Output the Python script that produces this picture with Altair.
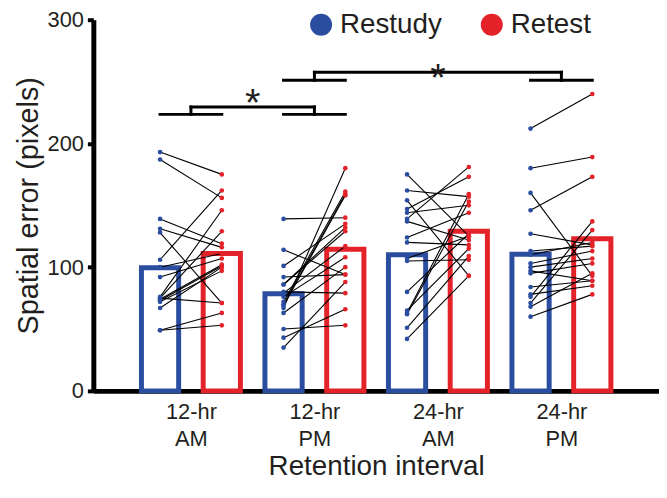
import json
import altair as alt
import pandas as pd

FONT = "Liberation Sans"
INK = "#231f20"

groups = ["12-hr AM", "12-hr PM", "24-hr AM", "24-hr PM"]
conditions = ["Restudy", "Retest"]
colors = ["#2B4DA0", "#E3222A"]

restudy_means = [99.5, 78.5, 110, 110.5]
retest_means = [111, 114.5, 129, 123]

restudy_12am = [193, 187, 139, 131, 128, 106, 100, 92, 76, 75, 74, 73, 72, 75, 67, 49, 49]
retest_12am = [175, 156, 119, 116, 71, 162, 111, 107, 146, 129, 102, 101, 97, 71, 100, 63, 53]
restudy_12pm = [139, 114, 101, 92, 86, 86, 80, 79, 76, 72, 70, 69, 67, 63, 50, 43, 35]
retest_12pm = [140, 94, 135, 94, 132, 129, 79, 117, 108, 161, 159, 158, 180, 100, 53, 66, 88]
restudy_24am = [175, 162, 154, 147, 144, 139, 137, 124, 120, 107, 105, 80, 65, 63, 62, 51, 42]
retest_24am = [125, 157, 93, 173, 150, 181, 122, 144, 118, 125, 106, 127, 115, 159, 153, 109, 93]
restudy_24pm = [212, 180, 160, 146, 127, 113, 110, 103, 100, 97, 95, 84, 78, 76, 71, 68, 60]
retest_24pm = [240, 189, 93, 173, 118, 117, 120, 113, 107, 89, 103, 89, 85, 137, 130, 95, 78]

# significance brackets: (left group, right group), lower / upper level, star level
bracket_groups = [(0, 1), (1, 3)]
bracket_low = [223.5, 251]
bracket_high = [229.5, 257.5]
star_level = [241, 260.5]
star_text = ["*", "*"]

restudy = [restudy_12am, restudy_12pm, restudy_24am, restudy_24pm]
retest = [retest_12am, retest_12pm, retest_24am, retest_24pm]

rows = []
for g, (rs, rt) in enumerate(zip(restudy, retest)):
    for i, (a, b) in enumerate(zip(rs, rt)):
        rows.append({"pos": 2 * g + 1, "value": a, "condition": conditions[0], "pair": f"{g}-{i}"})
        rows.append({"pos": 2 * g + 2, "value": b, "condition": conditions[1], "pair": f"{g}-{i}"})
points_df = pd.DataFrame(rows)

bar_rows = []
for g in range(len(groups)):
    bar_rows.append({"pos": 2 * g + 1, "value": restudy_means[g], "bar_condition": conditions[0]})
    bar_rows.append({"pos": 2 * g + 2, "value": retest_means[g], "bar_condition": conditions[1]})
bars_df = pd.DataFrame(bar_rows)

seg = []
stars = []
for (gl, gr), lo, hi, sy, st in zip(bracket_groups, bracket_low, bracket_high, star_level, star_text):
    cl, cr = 2 * gl + 1.5, 2 * gr + 1.5
    seg += [
        {"pos": 2 * gl + 1, "pos2": 2 * gl + 2, "value": lo, "value2": lo},
        {"pos": cl, "pos2": cl, "value": lo, "value2": hi},
        {"pos": cl, "pos2": cr, "value": hi, "value2": hi},
        {"pos": cr, "pos2": cr, "value": lo, "value2": hi},
        {"pos": 2 * gr + 1, "pos2": 2 * gr + 2, "value": lo, "value2": lo},
    ]
    stars.append({"pos": (cl + cr) / 2, "value": sy, "label": st})
seg_df = pd.DataFrame(seg)
stars_df = pd.DataFrame(stars)

label_lists = json.dumps([g.split(" ") for g in groups])
label_expr = f"{label_lists}[round((datum.value - 1.5) / 2)]"

xscale = alt.Scale(domain=[0, 9], nice=False, zero=False)
yscale = alt.Scale(domain=[0, 300], nice=False)

xaxis = alt.Axis(
    values=[1.5, 3.5, 5.5, 7.5], labelExpr=label_expr, title="Retention interval",
    ticks=False, tickSize=0, grid=False, domainWidth=5, domainColor="black",
    labelFontSize=22, labelLineHeight=27, labelPadding=11, labelColor=INK,
    titleFontSize=28, titleFontWeight="normal", titlePadding=3, titleColor=INK,
)
yaxis = alt.Axis(
    values=[0, 100, 200, 300], title="Spatial error (pixels)", grid=False,
    domainWidth=5, domainColor="black", tickWidth=4, tickSize=6, tickColor="black",
    labelFontSize=22, labelPadding=4, labelColor=INK,
    titleFontSize=29, titleFontWeight="normal", titlePadding=4, titleColor=INK,
)

xenc = alt.X("pos:Q", scale=xscale, axis=xaxis)
yenc = alt.Y("value:Q", scale=yscale, axis=yaxis)
cscale = alt.Scale(domain=conditions, range=colors)

bars = alt.Chart(bars_df).mark_bar(size=37.5, strokeWidth=5, fillOpacity=0).encode(
    x=xenc, y=yenc, stroke=alt.Stroke("bar_condition:N", scale=cscale, legend=None)
)
lines = alt.Chart(points_df).mark_line(color="black", strokeWidth=1.1).encode(
    x=xenc, y=yenc, detail="pair:N", order="pos:Q"
)
pts = alt.Chart(points_df).mark_circle(size=22, opacity=1).encode(
    x=xenc, y=yenc,
    color=alt.Color("condition:N", scale=cscale, legend=alt.Legend(
        title=None, orient="none", legendX=215.5, legendY=-9, direction="horizontal",
        symbolType="circle", symbolSize=490, symbolStrokeWidth=0, symbolOpacity=1,
        labelFontSize=28, labelFont=FONT, labelColor=INK, labelOffset=5,
        columnPadding=36, padding=0,
    )),
)
rules = alt.Chart(seg_df).mark_rule(color="black", strokeWidth=3, strokeCap="square").encode(
    x=xenc, x2="pos2:Q", y=yenc, y2="value2:Q"
)
star_marks = alt.Chart(stars_df).mark_text(
    fontSize=40, dy=23, baseline="alphabetic", font=FONT, color=INK
).encode(x=xenc, y=yenc, text="label:N")

chart = alt.layer(bars, lines, pts, rules, star_marks).resolve_scale(
    color="independent", stroke="independent"
).properties(
    width=570, height=374,
    autosize=alt.AutoSizeParams(type="none"),
    padding={"left": 86, "top": 10, "right": 0, "bottom": 90},
).configure(font=FONT).configure_view(stroke="transparent")

chart.save("out.html", embed_options={"renderer": "svg", "actions": False})
